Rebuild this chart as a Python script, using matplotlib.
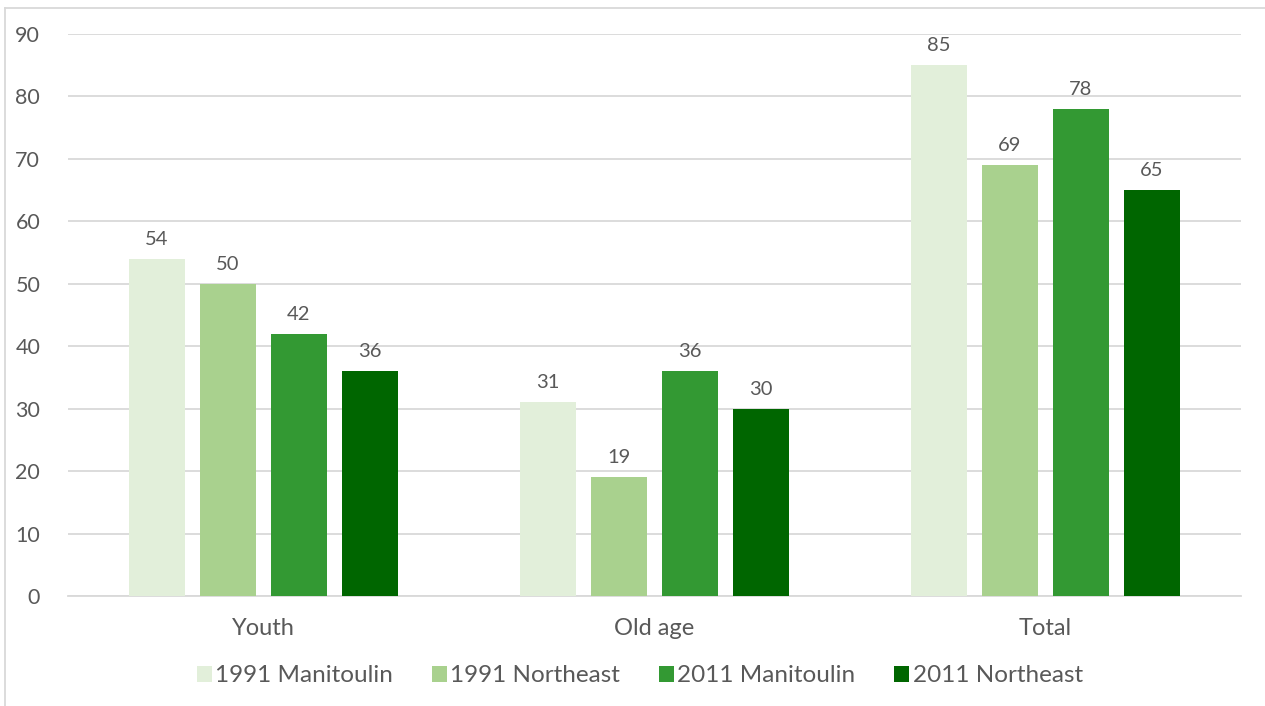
import matplotlib
matplotlib.use("Agg")
import matplotlib.pyplot as plt
import numpy as np
from matplotlib.lines import Line2D

categories = ["Youth", "Old age", "Total"]
series_names = ["1991 Manitoulin", "1991 Northeast", "2011 Manitoulin", "2011 Northeast"]
v1991_manitoulin = [54, 31, 85]
v1991_northeast = [50, 19, 69]
v2011_manitoulin = [42, 36, 78]
v2011_northeast = [36, 30, 65]
y_ticks = [0, 10, 20, 30, 40, 50, 60, 70, 80, 90]

series_values = [v1991_manitoulin, v1991_northeast, v2011_manitoulin, v2011_northeast]
colors = ["#E2EFDA", "#A9D18E", "#339933", "#006600"]

plt.rcParams['font.family'] = ['Lato', 'DejaVu Sans']
txt = "#595959"

fig = plt.figure(figsize=(12.65, 7.06), dpi=100)
ax = fig.add_axes([68/1265, 1-596/706, (1241-68)/1265, (596-34)/706])

x = np.arange(len(categories))
width = 0.143
step = 0.1816
for i, (name, vals, c) in enumerate(zip(series_names, series_values, colors)):
    pos = x + (i - 1.5) * step
    bars = ax.bar(pos, vals, width=width, color=c, label=name, zorder=3)
    for b, v in zip(bars, vals):
        ax.annotate(f"{v}", (b.get_x() + b.get_width()/2, v), xytext=(0, 8),
                    textcoords="offset points", ha="center", va="bottom",
                    fontsize=14.5, color=txt)

ax.set_xlim(-0.5, 2.5)
ax.set_ylim(0, 90)
ax.set_yticks(y_ticks)
ax.set_xticks(x)
ax.set_xticklabels(categories, fontsize=17)
ax.grid(axis="y", color="#D9D9D9", linewidth=1.3, zorder=0)
for s in ["top", "right", "left"]:
    ax.spines[s].set_visible(False)
ax.spines["bottom"].set_color("#D9D9D9")
ax.spines["bottom"].set_linewidth(1.3)
ax.tick_params(axis="both", length=0, colors=txt)
ax.tick_params(axis="y", pad=20, labelsize=15.5)
ax.tick_params(axis="x", pad=16)

leg = fig.legend(loc="center", bbox_to_anchor=(640/1265, 1-676/706), ncol=4,
                 frameon=False, fontsize=17.5, handlelength=0.6, handleheight=0.6,
                 handletextpad=0.15, columnspacing=1.6)
for t in leg.get_texts():
    t.set_color(txt)

# chart-area border (left and top visible)
fig.add_artist(Line2D([5/1265, 5/1265], [0, 1-8/706], transform=fig.transFigure,
                      color="#D9D9D9", linewidth=1.3))
fig.add_artist(Line2D([5/1265, 1], [1-8/706, 1-8/706], transform=fig.transFigure,
                      color="#D9D9D9", linewidth=1.3))

fig.savefig("out.png", dpi=100)
